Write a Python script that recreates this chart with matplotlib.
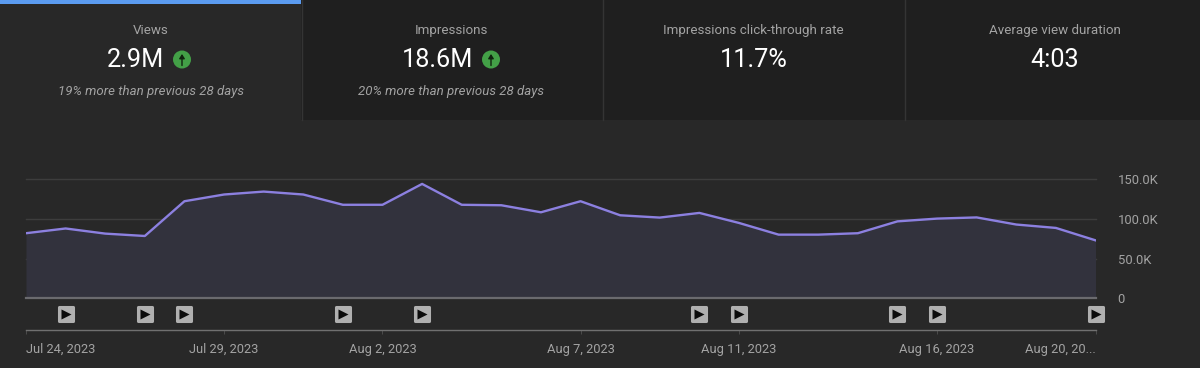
import matplotlib
matplotlib.use("Agg")
import matplotlib.pyplot as plt
from matplotlib.markers import MarkerStyle
from matplotlib.patches import Circle, Rectangle

days = list(range(28))
views = [82, 88, 81.5, 78.5, 122.5, 131, 134.7, 131, 118, 118, 144.4, 118, 117.4, 108.5,
         122.5, 104.7, 101.8, 107.7, 95, 80.2, 80.2, 82, 97, 100.5, 102, 93, 88.7, 73]
video_days = [1, 3, 4, 8, 10, 17, 18, 22, 23, 27]
date_ticks = [0, 5, 9, 14, 18, 23, 27]
date_labels = ["Jul 24, 2023", "Jul 29, 2023", "Aug 2, 2023", "Aug 7, 2023",
               "Aug 11, 2023", "Aug 16, 2023", "Aug 20, 20..."]
y_ticks = [0, 50, 100, 150]
y_labels = ["0", "50.0K", "100.0K", "150.0K"]

card_titles = ["Views", "Impressions", "Impressions click-through rate", "Average view duration"]
card_values = ["2.9M", "18.6M", "11.7%", "4:03"]
card_notes = ["19% more than previous 28 days", "20% more than previous 28 days", "", ""]

plt.rcParams["font.family"] = ["Roboto", "DejaVu Sans"]
BG = "#282828"
W, H = 1200, 368

fig = plt.figure(figsize=(W / 100, H / 100), dpi=100, facecolor=BG)

# top cards, drawn in pixel coordinates
top = fig.add_axes([0, 0, 1, 1])
top.set_xlim(0, W)
top.set_ylim(H, 0)
top.axis("off")

edges = [0, 301, 602, 904, 1200]
text_x = [150.5, 451.5, 753.5, 1055]
value_x = [136, 438, 753.5, 1055]
for i in range(4):
    x0, x1 = edges[i], edges[i + 1]
    top.add_patch(Rectangle((x0, 0), x1 - x0, 120, color=BG if i == 0 else "#1f1f1f", lw=0))
    if i > 0:
        top.plot([x0 + 0.5, x0 + 0.5], [0, 120], color="#343434", lw=1)
    top.text(text_x[i], 30.5, card_titles[i], color="#a3a3a3", fontsize=9.6, ha="center", va="center")
    top.text(value_x[i], 60, card_values[i], color="white", fontsize=18.2, ha="center", va="center")
    if card_notes[i]:
        top.text(text_x[i], 91, card_notes[i], color="#a3a3a3", fontsize=9.5, style="italic",
                 ha="center", va="center")
top.add_patch(Rectangle((0, 0), 301, 3.5, color="#5b9bf0", lw=0))

for cx in [182, 491]:
    top.add_patch(Circle((cx, 59.5), 9, color="#43a047", lw=0))
    top.annotate("", xy=(cx, 54), xytext=(cx, 65.5),
                 arrowprops=dict(arrowstyle="-|>,head_width=0.16,head_length=0.25", color="#10240f", lw=1,
                                 shrinkA=0, shrinkB=0))

# main chart
ax = fig.add_axes([26 / W, 1 - 298 / H, (1095.5 - 26) / W, 118.5 / H])
ax.set_facecolor("none")
ax.set_xlim(0, 27)
ax.set_ylim(0, 150)

ax.fill_between(days, views, 0, color="#32323d", lw=0, zorder=1)
ax.plot(days, views, color="#8c80e0", lw=1.7, zorder=3, solid_joinstyle="round")
ax.axhline(0, color="#6a6a6e", lw=1.6, zorder=4, clip_on=False)
for v in y_ticks[1:]:
    ax.axhline(v, color="#3d3d3d", lw=1, zorder=0.5, clip_on=False)

for s in ["top", "left", "right"]:
    ax.spines[s].set_visible(False)
ax.spines["bottom"].set_position(("outward", 23))
ax.spines["bottom"].set_color("#707070")
ax.spines["bottom"].set_linewidth(1)

ax.set_xticks(date_ticks)
ax.set_xticklabels(date_labels)
ax.tick_params(axis="x", length=3, width=0.7, color="#4c4c4c", labelcolor="#a3a3a3", labelsize=9.3, pad=6.5)
ticklabels = ax.get_xticklabels()
ticklabels[0].set_ha("left")
ticklabels[-1].set_ha("right")

ax.yaxis.tick_right()
ax.set_yticks(y_ticks)
ax.set_yticklabels(y_labels)
ax.tick_params(axis="y", length=0, labelcolor="#a3a3a3", labelsize=9.4, pad=16)

# video markers under the plot
trans = ax.get_xaxis_transform()
marker_y = [-0.135] * len(video_days)
ax.scatter(video_days, marker_y, transform=trans, clip_on=False, s=105, linewidths=2.2,
           marker=MarkerStyle("s", joinstyle="round"), color="#b0b0b0", edgecolors="#b0b0b0", zorder=5)
ax.scatter(video_days, marker_y, transform=trans, clip_on=False, s=52, linewidths=0,
           marker=">", color="#0c0c0c", zorder=6)

fig.savefig("out.png", dpi=100, facecolor=BG)
